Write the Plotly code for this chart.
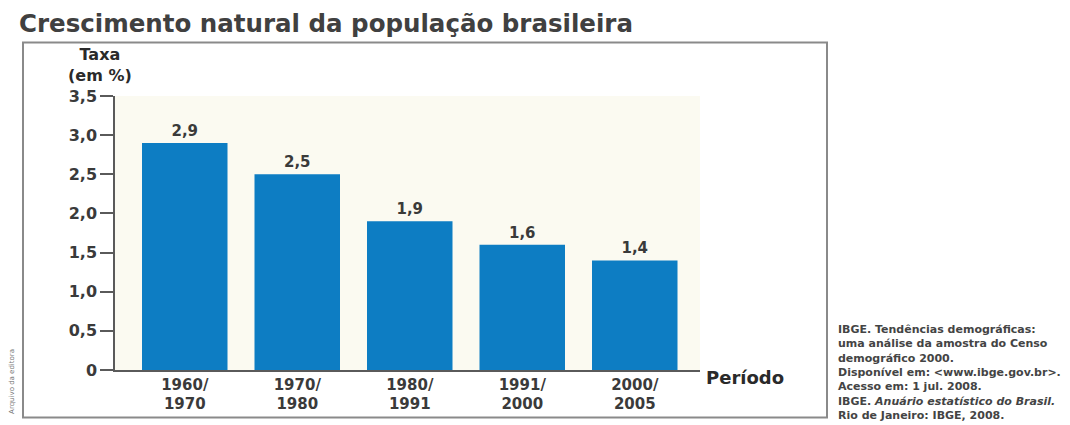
import plotly.graph_objects as go

# Taxa de crescimento natural (%) por período
periodos = ["1960/<br>1970", "1970/<br>1980", "1980/<br>1991", "1991/<br>2000", "2000/<br>2005"]
taxas = [2.9, 2.5, 1.9, 1.6, 1.4]
y_ticks = [0, 0.5, 1.0, 1.5, 2.0, 2.5, 3.0, 3.5]
y_tick_labels = ["0", "0,5", "1,0", "1,5", "2,0", "2,5", "3,0", "3,5"]

titulo = "Crescimento natural da população brasileira"
fonte_texto = (
    "IBGE. Tendências demográficas:<br>"
    "uma análise da amostra do Censo<br>"
    "demográfico 2000.<br>"
    "Disponível em: &lt;www.ibge.gov.br&gt;.<br>"
    "Acesso em: 1 jul. 2008.<br>"
    "IBGE. <i>Anuário estatístico do Brasil.</i><br>"
    "Rio de Janeiro: IBGE, 2008."
)

W, H = 1070, 425
L, R, T, B = 115, 700, 96, 373  # plot area in pixels


def px(x):
    return (x - L) / (R - L)


def py(y):
    return (B - y) / (B - T)


def fmt(v):
    return f"{v:.1f}".replace(".", ",")


FAM = "DejaVu Sans"
dark = "#3a3a3a"
axis_col = "#5a5a5a"

fig = go.Figure(
    go.Bar(
        x=periodos,
        y=taxas,
        text=[fmt(v) for v in taxas],
        textposition="outside",
        textfont=dict(family=FAM, size=15, color=dark, weight="bold"),
        marker=dict(color="#0d7dc3", line=dict(width=0)),
        width=0.76,
        cliponaxis=False,
        hoverinfo="skip",
    )
)

fig.update_layout(
    width=W,
    height=H,
    margin=dict(l=L, r=W - R, t=T, b=H - B),
    paper_bgcolor="white",
    plot_bgcolor="#fbfaf1",
    showlegend=False,
    font=dict(family=FAM, color=dark),
    xaxis=dict(
        range=[-0.62, 4.58],
        showline=True,
        linecolor=axis_col,
        linewidth=1.5,
        showgrid=False,
        ticks="",
        tickfont=dict(family=FAM, size=15, color=dark, weight="bold"),
        fixedrange=True,
    ),
    yaxis=dict(
        range=[0, 3.5],
        tickvals=y_ticks,
        ticktext=y_tick_labels,
        showline=True,
        linecolor=axis_col,
        linewidth=1.5,
        ticks="outside",
        ticklen=13,
        tickwidth=1.5,
        tickcolor=axis_col,
        showgrid=False,
        zeroline=False,
        tickfont=dict(family=FAM, size=16, color=dark, weight="bold"),
        fixedrange=True,
    ),
    shapes=[
        dict(
            type="rect", xref="paper", yref="paper",
            x0=px(23), x1=px(827), y0=py(421), y1=py(42),
            line=dict(color="#8a8a8a", width=2), layer="below",
        )
    ],
    annotations=[
        dict(
            text=titulo, xref="paper", yref="paper",
            x=px(17), y=py(23), xanchor="left", yanchor="middle",
            showarrow=False,
            font=dict(family=FAM, size=24.5, color="#404040", weight="bold"),
        ),
        dict(
            text="Taxa<br>(em %)", xref="paper", yref="paper",
            x=px(100), y=py(65), xanchor="center", yanchor="middle",
            showarrow=False, align="center",
            font=dict(family=FAM, size=16, color="#2a2a2a", weight="bold"),
        ),
        dict(
            text="Período", xref="paper", yref="paper",
            x=px(704), y=py(381), xanchor="left", yanchor="middle",
            showarrow=False,
            font=dict(family=FAM, size=18, color="#2a2a2a", weight="bold"),
        ),
        dict(
            text=fonte_texto, xref="paper", yref="paper",
            x=px(836), y=py(323), xanchor="left", yanchor="top",
            showarrow=False, align="left",
            font=dict(family=FAM, size=11, color="#444444", weight="bold"),
        ),
        dict(
            text="Arquivo da editora", xref="paper", yref="paper",
            x=px(12), y=py(384), xanchor="center", yanchor="middle",
            showarrow=False, textangle=-90,
            font=dict(family=FAM, size=7, color="#777777"),
        ),
    ],
)

fig.write_html("out.html")
